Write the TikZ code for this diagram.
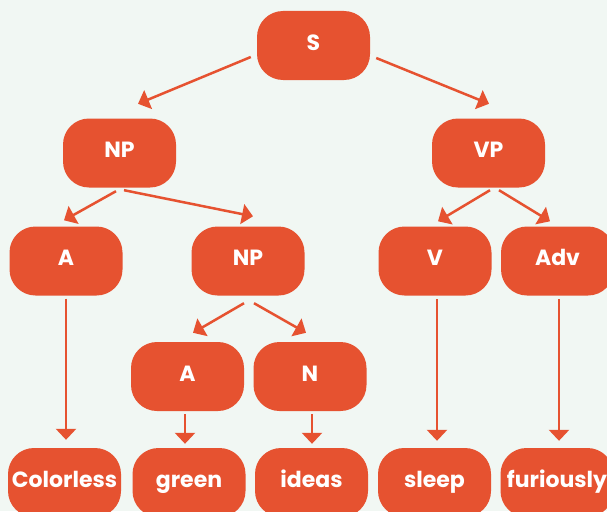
\documentclass[tikz,border=0pt]{standalone}
\usepackage{fontspec}
\setmainfont{Poppins}
\usetikzlibrary{arrows.meta}
\definecolor{bgc}{RGB}{241,247,243}
\definecolor{orng}{RGB}{230,82,48}
\begin{document}
\begin{tikzpicture}[x=1pt,y=-1pt,
  tnode/.style={fill=orng, text=white, rounded corners=26pt,
    minimum width=113pt, minimum height=69pt, inner sep=0pt,
    font=\fontsize{22}{24}\selectfont\bfseries, text height=0.95em, text depth=0pt},
  arr/.style={draw=orng, line width=2.5pt, -{Triangle[width=20pt,length=11pt]}}]
\fill[bgc] (0,0) rectangle (607,511);
\useasboundingbox (0,0) rectangle (607,511);
\clip (0,0) rectangle (607,511);
% nodes
\node[tnode] (S) at (313.5,45.5) {S};
\node[tnode] (NP) at (119.5,153) {NP};
\node[tnode] (VP) at (488.5,153) {VP};
\node[tnode] (A) at (66,261) {A};
\node[tnode] (NP2) at (248,261) {NP};
\node[tnode] (V) at (435,261) {V};
\node[tnode] (Adv) at (557.5,261) {Adv};
\node[tnode] (A2) at (187.5,376.5) {A};
\node[tnode] (N) at (310,376.5) {N};
\node[tnode] (Colorless) at (64.5,482.5) {Colorless};
\node[tnode] (green) at (189,482.5) {green};
\node[tnode] (ideas) at (311.5,482.5) {ideas};
\node[tnode] (sleep) at (434.5,482.5) {sleep};
\node[tnode] (furiously) at (557,482.5) {furiously};
% helper coordinates for vertical arrows
\coordinate (cA) at (A.south |- Colorless.north);
\coordinate (cA2) at (A2.south |- green.north);
\coordinate (cN) at (N.south |- ideas.north);
\coordinate (cV) at (V.south |- sleep.north);
\coordinate (cAdv) at (Adv.south |- furiously.north);
% connectors
\draw[arr] ([shift={(-6,11.5)}]S.west) -- ([shift={(18.5,-14.5)}]NP.north);
\draw[arr] ([shift={(6,12.5)}]S.east) -- ([shift={(0.5,-14.5)}]VP.north);
\draw[arr] ([shift={(-3.5,3.5)}]NP.south) -- ([shift={(-2,-6)}]A.north);
\draw[arr] ([shift={(4.5,2.5)}]NP.south) -- ([shift={(5,-10)}]NP2.north);
\draw[arr] ([shift={(1.5,2.5)}]VP.south) -- ([shift={(3,-5)}]V.north);
\draw[arr] ([shift={(10.5,2.5)}]VP.south) -- ([shift={(-7.5,-5)}]Adv.north);
\draw[arr] ([shift={(-4,7.5)}]NP2.south) -- ([shift={(5.5,-9)}]A2.north);
\draw[arr] ([shift={(6,7.5)}]NP2.south) -- ([shift={(-4,-9)}]N.north);
\draw[arr] ([shift={(0,3)}]A.south) -- ([shift={(0,-8)}]cA);
\draw[arr] ([shift={(-2.5,3)}]A2.south) -- ([shift={(-2.5,-4)}]cA2);
\draw[arr] ([shift={(2,3)}]N.south) -- ([shift={(2,-4)}]cN);
\draw[arr] ([shift={(2,3.5)}]V.south) -- ([shift={(2,-7)}]cV);
\draw[arr] ([shift={(1.5,3.5)}]Adv.south) -- ([shift={(1.5,-7)}]cAdv);
\end{tikzpicture}
\end{document}
